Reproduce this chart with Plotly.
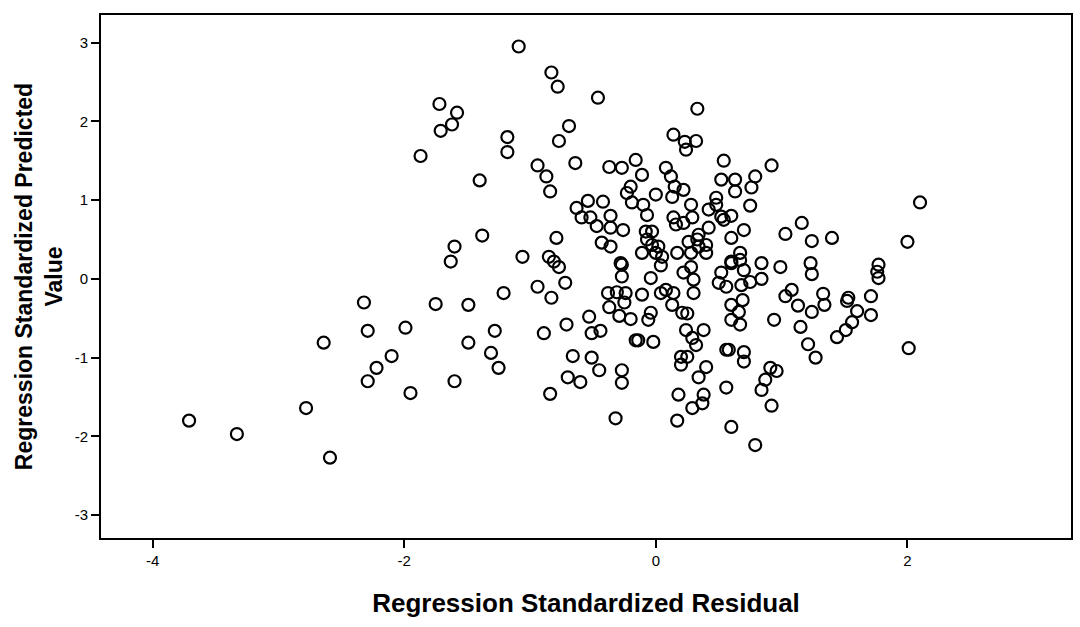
import plotly.graph_objects as go

# Regression Standardized Residual (x) and Regression Standardized Predicted Value (y)
residual = [
    -3.71, -3.33, -2.59, -2.78, -2.64, -2.32, -2.29, -2.10, -2.22, -2.29,
    -1.99, -1.95, -1.75, -1.60, -1.72, -1.58, -1.62, -1.71, -1.87, -1.60,
    -1.63, -1.49, -1.28, -1.49, -1.31, -1.25, -1.40, -1.38, -1.21, -1.09,
    -0.83, -0.78, -0.46, 0.33, -1.18, -1.18, -0.69, -0.77, 0.14, 0.23,
    0.32, 0.24, 0.54, 0.92, -0.94, -0.87, -0.84, -0.64, -0.37, -0.27,
    -0.16, -0.11, 0.08, 0.12, 0.15, 0.22, -0.20, -0.23, -0.19, 0.00,
    0.13, 0.28, 0.52, 0.63, 0.79, 0.76, 0.63, 0.48, 0.48, 0.42,
    0.75, 0.52, 0.60, 0.54, 0.42, 0.34, 0.70, 0.60, 1.16, 1.03,
    1.24, 1.40, 2.00, 2.10, -0.63, -0.54, -0.42, -0.59, -0.52, -0.36,
    -0.47, -0.36, -0.26, -0.10, -0.07, 0.14, 0.16, 0.22, 0.29, -0.08,
    -0.03, -0.07, -0.03, 0.02, 0.00, 0.05, -0.11, -0.43, -0.36, -0.79,
    -0.28, 0.26, 0.33, 0.34, 0.17, 0.28, 0.40, 0.40, 0.67, 0.67,
    0.60, 0.84, 0.99, 1.23, 1.24, 1.77, 1.76, 1.77, -1.06, -0.85,
    -0.81, -0.77, -0.72, -0.94, -0.83, -0.27, -0.27, -0.04, 0.04, 0.22,
    0.28, 0.30, 0.52, 0.60, 0.70, 0.56, 0.50, 0.68, 0.75, 0.84,
    0.69, 1.08, 1.03, 1.33, 1.53, 1.71, 1.34, 1.13, 1.24, 1.52,
    1.60, 1.71, 1.56, 1.51, 1.44, 0.94, 1.15, 1.21, 1.27, 2.01,
    0.91, 0.96, 0.87, 0.84, 0.92, 0.79, 0.70, 0.70, 0.60, 0.66,
    0.60, 0.67, 0.38, 0.56, 0.58, 0.40, 0.34, 0.56, 0.38, 0.37,
    0.60, -0.84, -0.89, -0.71, -0.53, -0.51, -0.44, -0.66, -0.51, -0.45,
    -0.70, -0.60, -0.27, -0.27, -0.32, -0.38, -0.31, -0.24, -0.25, -0.37,
    -0.29, -0.20, -0.11, 0.04, 0.08, 0.14, 0.13, -0.04, -0.06, -0.16,
    -0.14, -0.02, 0.21, 0.25, 0.24, 0.29, 0.32, 0.20, 0.25, 0.20,
    0.18, 0.29, 0.17, 0.30,
]

predicted = [
    -1.80, -1.97, -2.27, -1.64, -0.81, -0.30, -0.66, -0.98, -1.13, -1.30,
    -0.62, -1.45, -0.32, -1.30, 2.22, 2.11, 1.96, 1.88, 1.56, 0.41,
    0.22, -0.33, -0.66, -0.81, -0.94, -1.13, 1.25, 0.55, -0.18, 2.95,
    2.62, 2.44, 2.30, 2.16, 1.80, 1.61, 1.94, 1.75, 1.83, 1.74,
    1.75, 1.64, 1.50, 1.44, 1.44, 1.30, 1.11, 1.47, 1.42, 1.41,
    1.51, 1.32, 1.41, 1.30, 1.17, 1.13, 1.17, 1.09, 0.97, 1.07,
    1.04, 0.94, 1.26, 1.26, 1.30, 1.16, 1.11, 1.03, 0.94, 0.88,
    0.93, 0.79, 0.80, 0.75, 0.65, 0.56, 0.62, 0.52, 0.71, 0.57,
    0.48, 0.52, 0.47, 0.97, 0.90, 0.99, 0.98, 0.78, 0.78, 0.80,
    0.67, 0.65, 0.62, 0.94, 0.81, 0.78, 0.69, 0.71, 0.78, 0.60,
    0.60, 0.50, 0.43, 0.41, 0.33, 0.28, 0.33, 0.46, 0.41, 0.52,
    0.20, 0.47, 0.50, 0.41, 0.33, 0.33, 0.43, 0.33, 0.33, 0.24,
    0.22, 0.20, 0.15, 0.20, 0.06, 0.18, 0.09, 0.01, 0.28, 0.28,
    0.22, 0.15, -0.05, -0.10, -0.24, 0.18, 0.03, 0.01, 0.17, 0.08,
    0.15, -0.01, 0.08, 0.20, 0.11, -0.10, -0.05, -0.08, -0.04, 0.00,
    -0.27, -0.14, -0.22, -0.19, -0.24, -0.22, -0.33, -0.34, -0.42, -0.28,
    -0.41, -0.46, -0.55, -0.65, -0.74, -0.52, -0.61, -0.83, -1.00, -0.88,
    -1.13, -1.17, -1.28, -1.41, -1.61, -2.11, -0.93, -1.05, -0.33, -0.42,
    -0.52, -0.58, -0.65, -0.90, -0.90, -1.12, -1.25, -1.38, -1.47, -1.58,
    -1.88, -1.46, -0.69, -0.58, -0.48, -0.69, -0.66, -0.98, -1.00, -1.16,
    -1.25, -1.31, -1.16, -1.32, -1.77, -0.18, -0.17, -0.18, -0.30, -0.36,
    -0.47, -0.51, -0.20, -0.18, -0.14, -0.18, -0.33, -0.43, -0.52, -0.78,
    -0.78, -0.80, -0.43, -0.44, -0.65, -0.75, -0.84, -0.99, -0.99, -1.09,
    -1.47, -1.64, -1.80, -0.18,
]

x_ticks = [-4, -2, 0, 2]
y_ticks = [-3, -2, -1, 0, 1, 2, 3]

FONT = "Arial, Liberation Sans, sans-serif"

fig = go.Figure(
    go.Scatter(
        x=residual,
        y=predicted,
        mode="markers",
        marker=dict(
            symbol="circle-open",
            size=12,
            color="black",
            line=dict(width=2.2, color="black"),
        ),
        hoverinfo="x+y",
    )
)

axis_common = dict(
    showline=True,
    linecolor="black",
    linewidth=2,
    mirror=True,
    showgrid=False,
    zeroline=False,
    ticks="outside",
    ticklen=8,
    tickwidth=1.5,
    tickcolor="black",
    tickfont=dict(family=FONT, size=15, color="black"),
)

fig.update_xaxes(
    range=[-4.41, 3.30],
    tickvals=x_ticks,
    ticktext=[str(v) for v in x_ticks],
    title=dict(
        text="<b>Regression Standardized Residual</b>",
        font=dict(family=FONT, size=26, color="black"),
        standoff=26,
    ),
    **axis_common,
)
fig.update_yaxes(
    range=[-3.29, 3.35],
    tickvals=y_ticks,
    ticktext=[str(v) for v in y_ticks],
    title=dict(
        text="<b>Regression Standardized Predicted<br>Value</b>",
        font=dict(family=FONT, size=23, color="black"),
        standoff=6,
    ),
    **axis_common,
)

fig.update_layout(
    width=1080,
    height=627,
    margin=dict(l=101, r=7, t=15, b=89),
    paper_bgcolor="white",
    plot_bgcolor="white",
    showlegend=False,
    font=dict(family=FONT, color="black"),
)

fig.write_html("out.html")
